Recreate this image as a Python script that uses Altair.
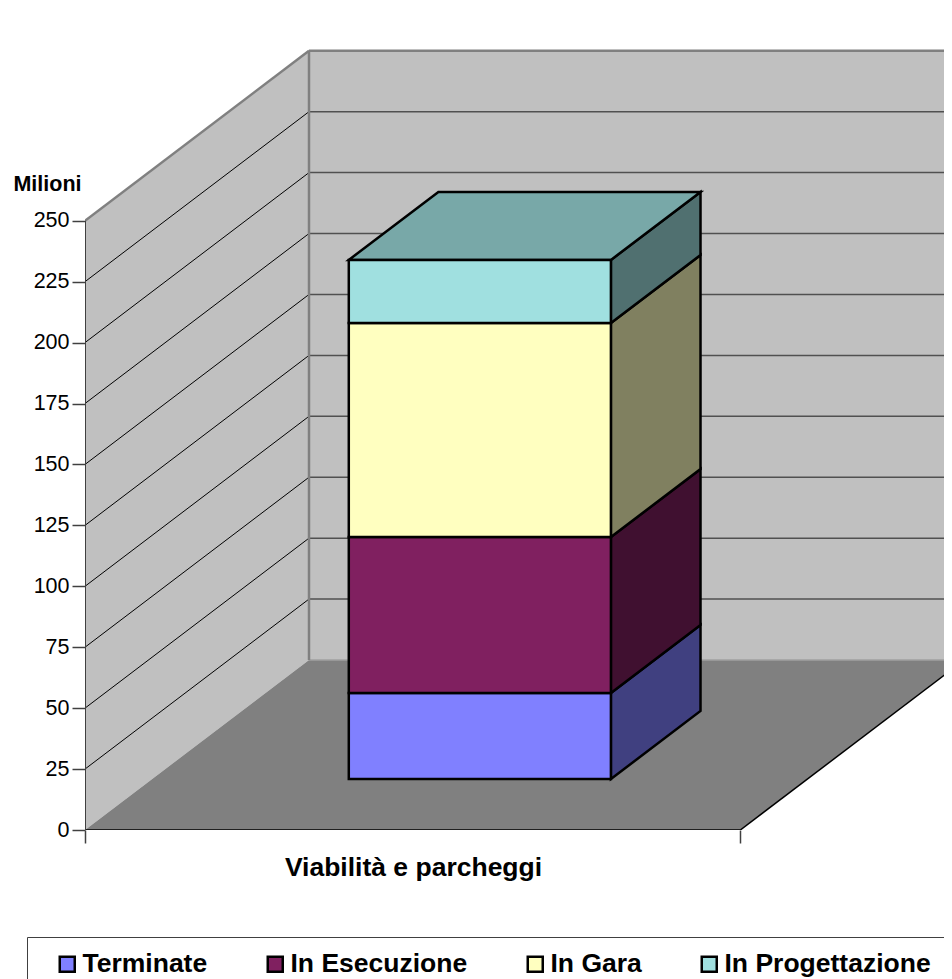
import altair as alt
import pandas as pd

# ---- data ----
CATEGORY = "Viabilità e parcheggi"
SERIES = ["Terminate", "In Esecuzione", "In Gara", "In Progettazione"]
VALUES = [35.3, 64.0, 87.8, 25.9]
TICKS = [0, 25, 50, 75, 100, 125, 150, 175, 200, 225, 250]

FRONT = ["#8080FF", "#802060", "#FFFFC0", "#A0E0E0"]
SIDE = ["#404080", "#401030", "#808060", "#507070"]
TOP = ["#6060C0", "#601848", "#C0C090", "#78A8A8"]

FONT = "Liberation Sans"

# ---- projection of the 3-D box (x in category widths, y in value units) ----
PX_PER_X = 655.3
PX_PER_Y = 2.437
VIEW_W = 859
VIEW_H = 822
DEPTH_X = 224 / PX_PER_X      # full-depth shift, in x units
DEPTH_Y = 170 / PX_PER_Y      # full-depth shift, in y units
YMAX = 250
BAR_X = (0.3, 0.7)
BAR_D = (0.3, 0.7)


def proj(x, v, d):
    return x + d * DEPTH_X, v + d * DEPTH_Y


xs = alt.Scale(domain=[0, VIEW_W / PX_PER_X], nice=False, zero=False)
ys = alt.Scale(domain=[0, VIEW_H / PX_PER_Y], nice=False, zero=False)

x_axis = alt.Axis(
    values=[0, 1], labels=False, domain=False, grid=False, tickColor="#404040", tickSize=13, tickWidth=1.5,
    title=CATEGORY, titleFont=FONT, titleFontSize=26.5, titleFontWeight="bold", titleColor="black",
    titleX=328, titleY=45, titleAlign="center", titleBaseline="alphabetic",
)
y_axis = alt.Axis(
    values=TICKS, domain=False, grid=False, tickColor="#404040", tickSize=13, tickWidth=1.5,
    labelFont=FONT, labelFontSize=21.5, labelColor="black", labelPadding=3,
    title="Milioni", titleFont=FONT, titleFontSize=21.5, titleFontWeight="bold", titleColor="black",
    titleAngle=0, titleX=-4, titleY=182, titleAlign="right", titleBaseline="alphabetic",
)


def X(name="x"):
    return alt.X(f"{name}:Q", scale=xs, axis=x_axis)


def Y(name="y"):
    return alt.Y(f"{name}:Q", scale=ys, axis=y_axis)


def lines(segments, color, width):
    rows = []
    for k, (a, b) in enumerate(segments):
        rows.append({"id": k, "i": 0, "x": a[0], "y": a[1]})
        rows.append({"id": k, "i": 1, "x": b[0], "y": b[1]})
    return alt.Chart(pd.DataFrame(rows)).mark_line(
        color=color, strokeWidth=width, clip=True
    ).encode(X(), Y(), detail="id:N", order="i:Q")


# walls and floor
back = pd.DataFrame([{"x": DEPTH_X, "x2": 1 + DEPTH_X, "y": DEPTH_Y, "y2": DEPTH_Y + YMAX}])
back_wall = alt.Chart(back).mark_rect(color="#C0C0C0", clip=True).encode(
    X(), alt.X2("x2:Q"), Y(), alt.Y2("y2:Q")
)
left_wall = alt.Chart(pd.DataFrame([
    {"x": 0, "y": 0, "y2": YMAX},
    {"x": DEPTH_X, "y": DEPTH_Y, "y2": DEPTH_Y + YMAX},
])).mark_area(color="#C0C0C0", clip=True).encode(X(), Y(), alt.Y2("y2:Q"))
floor = alt.Chart(pd.DataFrame([
    {"y": 0, "x": 0, "x2": 1},
    {"y": DEPTH_Y, "x": DEPTH_X, "x2": 1 + DEPTH_X},
])).mark_area(color="#808080", orient="horizontal", clip=True).encode(X(), alt.X2("x2:Q"), Y())

grid_back = lines(
    [((DEPTH_X, DEPTH_Y + t), (1 + DEPTH_X, DEPTH_Y + t)) for t in TICKS[1:-1]], "#505050", 1.5
)
grid_left = lines(
    [((0, t), (DEPTH_X, DEPTH_Y + t)) for t in TICKS[1:-1]], "#000000", 1
)
wall_edges = lines([
    ((0, YMAX), (DEPTH_X, DEPTH_Y + YMAX)),
    ((DEPTH_X, DEPTH_Y), (DEPTH_X, DEPTH_Y + YMAX)),
    ((DEPTH_X, DEPTH_Y + YMAX), (1 + DEPTH_X, DEPTH_Y + YMAX)),
], "#808080", 2.5)
floor_back = lines([((DEPTH_X, DEPTH_Y), (1 + DEPTH_X, DEPTH_Y))], "#A0A0A0", 1.5)
floor_edges = lines([
    ((0, 0), (1, 0)),
    ((1, 0), (1 + DEPTH_X, DEPTH_Y)),
], "#000000", 1.5)
left_edge = lines([((0, 0), (0, YMAX))], "#404040", 2)

# the stacked 3-D bar
front_rows, side_rows = [], []
bottom = 0.0
for name, value in zip(SERIES, VALUES):
    top = bottom + value
    fx0, fy0 = proj(BAR_X[0], bottom, BAR_D[0])
    fx1, fy1 = proj(BAR_X[1], top, BAR_D[0])
    front_rows.append({"series": name, "x": fx0, "x2": fx1, "y": fy0, "y2": fy1})
    bx1, by0 = proj(BAR_X[1], bottom, BAR_D[1])
    _, by1 = proj(BAR_X[1], top, BAR_D[1])
    side_rows.append({"series": name, "x": fx1, "y": fy0, "y2": fy1})
    side_rows.append({"series": name, "x": bx1, "y": by0, "y2": by1})
    bottom = top

tx0, ty0 = proj(BAR_X[0], bottom, BAR_D[0])
tx1, _ = proj(BAR_X[1], bottom, BAR_D[0])
tbx0, ty1 = proj(BAR_X[0], bottom, BAR_D[1])
tbx1, _ = proj(BAR_X[1], bottom, BAR_D[1])
top_rows = [
    {"series": SERIES[-1], "y": ty0, "x": tx0, "x2": tx1},
    {"series": SERIES[-1], "y": ty1, "x": tbx0, "x2": tbx1},
]

BAR_STROKE = dict(stroke="black", strokeWidth=2.5, strokeJoin="miter")

sides = alt.Chart(pd.DataFrame(side_rows)).mark_area(**BAR_STROKE).encode(
    X(), Y(), alt.Y2("y2:Q"),
    fill=alt.Fill("series:N", scale=alt.Scale(domain=SERIES, range=SIDE), legend=None),
)
top_face = alt.Chart(pd.DataFrame(top_rows)).mark_area(orient="horizontal", **BAR_STROKE).encode(
    X(), alt.X2("x2:Q"), Y(),
    fill=alt.Fill("series:N", scale=alt.Scale(domain=SERIES, range=TOP), legend=None),
)
fronts = alt.Chart(pd.DataFrame(front_rows)).mark_rect(**BAR_STROKE).encode(
    X(), alt.X2("x2:Q"), Y(), alt.Y2("y2:Q"),
    fill=alt.Fill(
        "series:N",
        scale=alt.Scale(domain=SERIES, range=FRONT),
        legend=alt.Legend(
            title=None, orient="none", legendX=-58, legendY=929, columns=4, gridAlign="none",
            columnPadding=41, padding=14, strokeColor="#404040",
            symbolType="square", symbolSize=225, symbolStrokeColor="black", symbolStrokeWidth=2.5,
            symbolOffset=13,
            labelFont=FONT, labelFontSize=26.5, labelFontWeight="bold", labelColor="black",
            labelOffset=2, labelLimit=400,
        ),
    ),
)

chart = alt.layer(
    back_wall, left_wall, floor, floor_back, grid_back, grid_left, wall_edges, floor_edges, left_edge,
    sides, top_face, fronts,
).resolve_scale(fill="independent").properties(
    width=VIEW_W,
    height=VIEW_H,
    padding={"left": 77, "top": 0, "right": 0, "bottom": 149},
    autosize=alt.AutoSizeParams(type="none"),
    background="white",
).configure_view(stroke=None)

chart.save("out.html", embed_options={"renderer": "svg", "actions": False})
